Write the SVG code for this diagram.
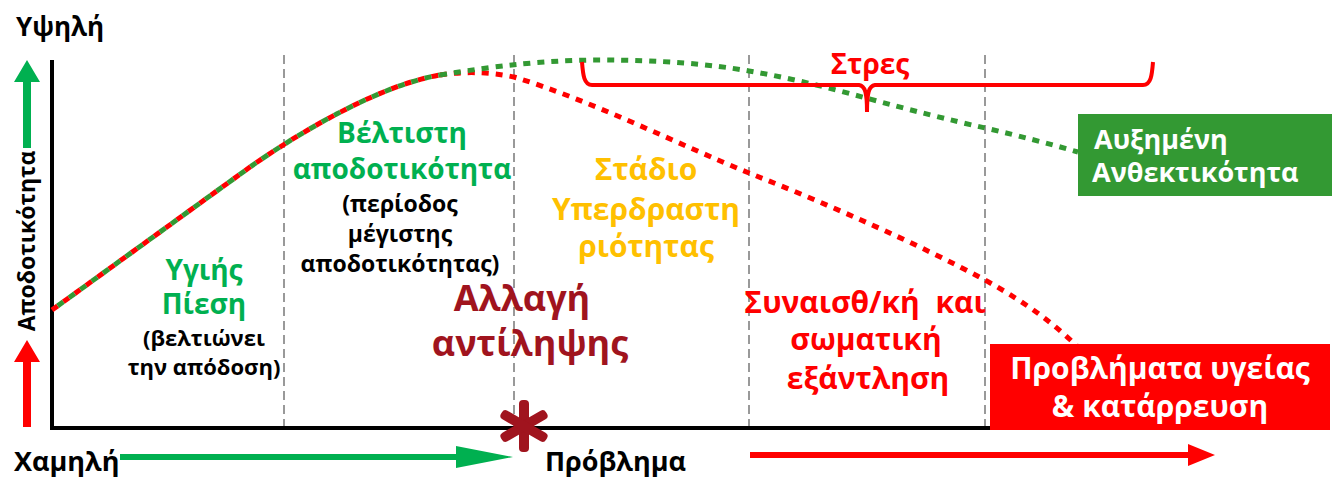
<svg xmlns="http://www.w3.org/2000/svg" width="1339" height="478" viewBox="0 0 1339 478">
<defs>
<style>
.t{font-family:"Open Sans","Noto Sans","DejaVu Sans",sans-serif;font-weight:700;text-anchor:middle}
.s{text-anchor:start}
.k{fill:#000}
.g{fill:#00B050}
.dr{fill:#A0141E}
.y{fill:#FFC000}
.r{fill:#FF0000}
.w{fill:#FFFFFF}
.vd{stroke:#808080;stroke-width:1.6;stroke-dasharray:9 5;fill:none}
.dotR{fill:none;stroke:#FF0000;stroke-width:5;stroke-dasharray:7 7}
.dotG{fill:none;stroke:#339933;stroke-width:5;stroke-dasharray:7 7}
</style>
</defs>
<rect width="1339" height="478" fill="#FFFFFF"/>

<g id="grid">
<line class="vd" x1="284" y1="55" x2="284" y2="428"/>
<line class="vd" x1="514" y1="55" x2="514" y2="428"/>
<line class="vd" x1="749" y1="55" x2="749" y2="428"/>
<line class="vd" x1="985" y1="55" x2="985" y2="428"/>
</g>

<g id="axes">
<line x1="52" y1="60" x2="52" y2="430" stroke="#000" stroke-width="4"/>
<line x1="50" y1="428" x2="1000" y2="428" stroke="#000" stroke-width="4"/>
<text class="t k s" x="16" y="36" font-size="26">Υψηλή</text>
<text class="t k s" x="14" y="471" font-size="27">Χαμηλή</text>
<text class="t k s" x="545" y="471" font-size="27">Πρόβλημα</text>
<text class="t k" x="0" y="0" font-size="23" transform="translate(35,241) rotate(-90)">Αποδοτικότητα</text>
<polygon points="27,60 40,82 31,82 31,148 23,148 23,82 14,82" fill="#00B050"/>
<polygon points="27,340 40,362 31,362 31,427 23,427 23,362 14,362" fill="#FF0000"/>
<polygon points="120,454 456,454 456,446 513,457 456,468 456,460 120,460" fill="#00B050"/>
<polygon points="750,452 1188,452 1188,444 1215,455 1188,466 1188,458 750,458" fill="#FF0000"/>
</g>

<g id="connectors">
<path class="dotR" d="M52,310 L250,167 C300,132 380,85 440,75"/>
<path class="dotG" stroke-dashoffset="7" d="M52,310 L250,167 C300,132 380,85 440,75"/>
<path class="dotR" d="M440,75 C460,72 485,71 514,77 C590,100 680,145 749,173 C830,205 920,245 985,280 C1030,305 1055,325 1078,347"/>
<path class="dotG" d="M440,75 C500,65 550,60 600,60 C660,60 710,64 749,71 C790,78 830,88 866,98 C910,110 950,120 985,128 C1020,136 1050,144 1078,152"/>
<path d="M582,62 C583,75 584,85 592,85 L859,85 C865,86 867,92 867,112 C867,92 869,86 875,85 L1143,85 C1151,85 1152,75 1153,62" fill="none" stroke="#FF0000" stroke-width="4"/>
</g>

<g id="star">
<g transform="translate(524,426)" fill="#A0141E">
<rect x="-5" y="-26" width="10" height="52" rx="4"/>
<rect x="-5" y="-26" width="10" height="52" rx="4" transform="rotate(60)"/>
<rect x="-5" y="-26" width="10" height="52" rx="4" transform="rotate(-60)"/>
</g>
</g>

<g id="stres">
<text class="t r" x="870" y="74" font-size="28" font-weight="500">Στρες</text>
</g>

<g id="node-healthy">
<text class="t g" x="204" y="280" font-size="28">Υγιής</text>
<text class="t g" x="204" y="314" font-size="28">Πίεση</text>
<text class="t k" x="204" y="346" font-size="22">(βελτιώνει</text>
<text class="t k" x="204" y="375" font-size="22">την απόδοση)</text>
</g>

<g id="node-optimal">
<text class="t g" x="402" y="143" font-size="28">Βέλτιστη</text>
<text class="t g" x="402" y="179" font-size="28">αποδοτικότητα</text>
<text class="t k" x="400" y="212" font-size="23">(περίοδος</text>
<text class="t k" x="400" y="242" font-size="23">μέγιστης</text>
<text class="t k" x="400" y="272" font-size="23">αποδοτικότητας)</text>
</g>

<g id="node-perception">
<text class="t dr" x="522" y="311" font-size="36">Αλλαγή</text>
<text class="t dr" x="530" y="356" font-size="36">αντίληψης</text>
</g>

<g id="node-hyper">
<text class="t y" x="646" y="180" font-size="30">Στάδιο</text>
<text class="t y" x="646" y="220" font-size="30">Υπερδραστη</text>
<text class="t y" x="646" y="257" font-size="30">ριότητας</text>
</g>

<g id="node-exhaustion">
<text class="t r" x="865" y="313" font-size="30" xml:space="preserve">Συναισθ/κή  και</text>
<text class="t r" x="866" y="350" font-size="30">σωματική</text>
<text class="t r" x="868" y="389" font-size="30">εξάντληση</text>
</g>

<g id="node-resilience">
<rect x="1078" y="114" width="254" height="82" fill="#339933"/>
<text class="t w s" x="1094" y="149" font-size="27">Αυξημένη</text>
<text class="t w s" x="1092" y="182" font-size="27">Ανθεκτικότητα</text>
</g>

<g id="node-collapse">
<rect x="990" y="344" width="340" height="86" fill="#FF0000"/>
<text class="t w" x="1160" y="379" font-size="30">Προβλήματα υγείας</text>
<text class="t w" x="1160" y="417" font-size="30">&amp; κατάρρευση</text>
</g>
</svg>
